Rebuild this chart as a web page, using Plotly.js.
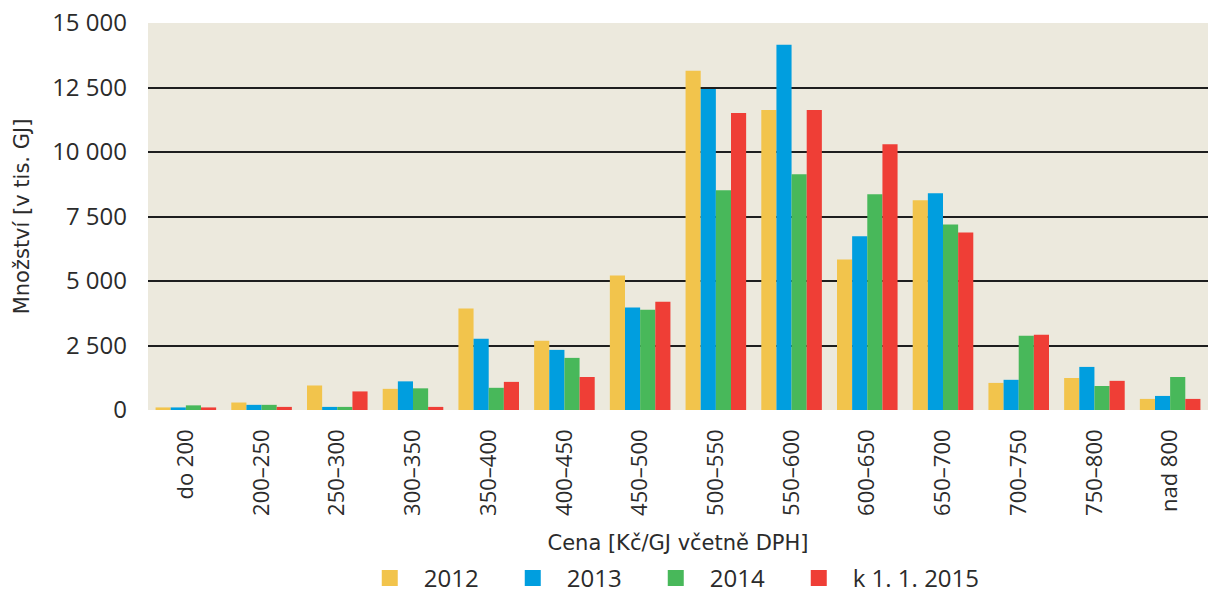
<!DOCTYPE html>
<html><head><meta charset="utf-8">
<script src="https://cdn.plot.ly/plotly-3.0.1.min.js"></script>
<style>body{margin:0;background:#fff}#chart{width:1208px;height:601px}</style>
</head><body><div id="chart"></div>
<script>
const categories = ["do 200","200–250","250–300","300–350","350–400","400–450","450–500","500–550","550–600","600–650","650–700","700–750","750–800","nad 800"];
const series2012 = [100, 290, 950, 820, 3930, 2680, 5210, 13150, 11630, 5830, 8130, 1050, 1240, 430];
const series2013 = [100, 200, 120, 1110, 2760, 2330, 3970, 12440, 14160, 6730, 8400, 1170, 1670, 545];
const series2014 = [180, 200, 120, 840, 860, 2020, 3890, 8520, 9140, 8360, 7190, 2880, 930, 1280];
const series2015 = [100, 120, 720, 120, 1090, 1280, 4200, 11510, 11630, 10300, 6880, 2920, 1130, 430];
const seriesNames = ["2012", "2013", "2014", "k 1. 1. 2015"];
const yTicks = [0, 2500, 5000, 7500, 10000, 12500, 15000];

const colors = ["#F2C44C", "#009EDF", "#48B85A", "#EF3E36"];
const allSeries = [series2012, series2013, series2014, series2015];
const traces = allSeries.map((s, i) => ({
  type: "bar", x: categories, y: s, name: seriesNames[i],
  marker: {color: colors[i], line: {width: 0}}, hoverinfo: "x+y",
  showlegend: false
}));
// legend entries with large square swatches
seriesNames.forEach((n, i) => traces.push({
  type: "scatter", mode: "markers", x: [null], y: [null], name: n,
  marker: {symbol: "square", size: 22, color: colors[i]}, showlegend: true
}));
// invisible spacer entry so the last legend label is not clipped
traces.push({type: "scatter", mode: "markers", x: [null], y: [null], name: " ",
  marker: {symbol: "square", size: 22, color: "rgba(0,0,0,0)"}, showlegend: true});

const font = "'Open Sans', Roboto, sans-serif";
const txt = "#2b2b2b";
const layout = {
  width: 1208, height: 601,
  margin: {l: 148, r: 0, t: 23, b: 191, autoexpand: false},
  paper_bgcolor: "#ffffff", plot_bgcolor: "#ECE9DD",
  separators: ", ",
  barmode: "group", bargap: 0.2, bargroupgap: 0,
  font: {family: font, color: txt},
  xaxis: {
    type: "category", tickangle: -90, ticklen: 0, showgrid: false,
    tickfont: {size: 22, color: txt},
    ticklabelstandoff: 14,
    title: {text: "Cena [Kč/GJ včetně DPH]", font: {family: "'DejaVu Sans', sans-serif", size: 21, color: txt}, standoff: 20},
    showline: false, zeroline: false, automargin: false
  },
  yaxis: {
    range: [0, 15000], tickvals: yTicks, tickformat: ",d",
    tickfont: {size: 24, color: txt}, ticklen: 0, ticklabelstandoff: 20,
    showgrid: true, gridcolor: "#1e1e1e", gridwidth: 2,
    zeroline: false,
    title: {text: "Množství [v tis. GJ]", font: {family: "'DejaVu Sans', sans-serif", size: 21, color: txt}, standoff: 16},
    showline: false, automargin: false
  },
  shapes: [{type: "rect", xref: "paper", x0: 0, x1: 1, yref: "y", ysizemode: "pixel", yanchor: 0, y0: -5, y1: 0,
            fillcolor: "#222", line: {width: 0}, layer: "above"}],
  legend: {
    orientation: "h", x: 0.196, xanchor: "left", y: -0.4935, yanchor: "bottom",
    font: {size: 24, color: txt}, itemwidth: 58, traceorder: "normal",
    itemsizing: "trace", entrywidth: 70, entrywidthmode: "pixels",
    bgcolor: "rgba(0,0,0,0)"
  },
  showlegend: true
};
Plotly.newPlot("chart", traces, layout, {displayModeBar: false, staticPlot: true});
</script></body></html>
